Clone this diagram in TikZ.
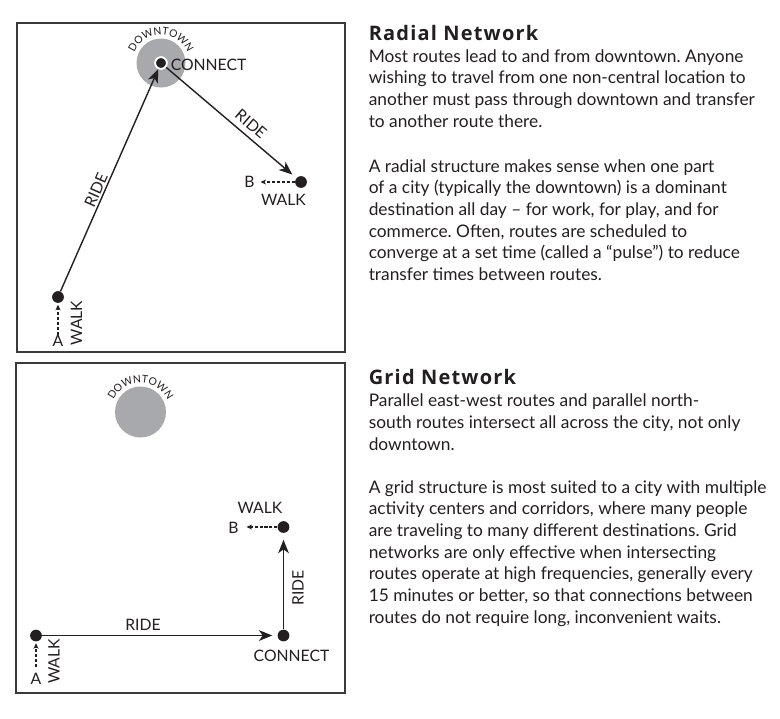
\documentclass[tikz,border=0pt]{standalone}
\usepackage{fontspec}
\setmainfont{Lato}
\newfontfamily\headfont[LetterSpace=6]{Open Sans}
\usetikzlibrary{arrows.meta,decorations.text}
\definecolor{dtgray}{HTML}{A7A9AC}
\definecolor{ink}{HTML}{231F20}
\definecolor{framec}{HTML}{3A3A3A}
\begin{document}
\frenchspacing
\begin{tikzpicture}[x=0.75pt,y=-0.75pt,
  panel/.style={draw=framec, line width=1.2pt},
  dot/.style={circle, fill=ink, inner sep=0pt, minimum size=8.8pt},
  lbl/.style={font=\fontsize{11.8}{13}\selectfont, text=ink, inner sep=0pt},
  ride/.style={draw=ink, line width=1.05pt, -{Stealth[length=10pt,width=8pt,inset=2.8pt]}},
  walk/.style={draw=ink, line width=0.95pt, dash pattern=on 2.3pt off 1.4pt, -{Stealth[length=4.2pt,width=3.8pt]}},
  body/.style={anchor=base west, inner sep=0pt, text=ink},
  dtown/.style={fill=dtgray, draw=none}
]
\useasboundingbox[fill=white] (0,0) rectangle (780,718);

% ---------- Radial panel ----------
\draw[panel] (17,23) rectangle (345,352);
\fill[dtown] (161,63) circle[radius=24.5];
\path[decorate, decoration={text along path, text align=center,
   text={|\fontsize{7.8}{8}\selectfont\color{ink}|DOWNTOWN}}]
   (161,63) ++(195:28.5) arc[start angle=195, end angle=345, radius=28.5];
\node[dot, draw=white, line width=1.4pt] (c1) at (161,63) {};
\node[lbl, anchor=west] (c1t) at (170.5,64.5) {CONNECT};
\node[dot] (a1) at (58,297) {};
\node[dot] (b1) at (301,182) {};
\coordinate (a1s) at (58,335);
\coordinate (b1e) at (260.5,182);
\draw[ride] (a1) -- (c1);
\draw[ride, shorten >=4pt] (c1) -- (b1);
\draw[walk, shorten >=1.2pt] (a1s) -- (a1);
\draw[walk] (b1) -- (b1e);
\node[lbl, rotate=66.2] (r1) at (96,190) {RIDE};
\node[lbl, rotate=-40.4] (r2) at (251,124) {RIDE};
\node[lbl] (la1) at (58,341) {A};
\node[lbl, rotate=90] (w1) at (76.5,323) {WALK};
\node[lbl] (lb1) at (249.5,182) {B};
\node[lbl] (w2) at (283.5,200) {WALK};

% ---------- Grid panel ----------
\draw[panel] (16,363) rectangle (345,693);
\fill[dtown] (140.5,412) circle[radius=25.5];
\path[decorate, decoration={text along path, text align=center,
   text={|\fontsize{7.8}{8}\selectfont\color{ink}|DOWNTOWN}}]
   (140.5,412) ++(195:29.5) arc[start angle=195, end angle=345, radius=29.5];
\node[dot] (a2) at (36,635.5) {};
\node[dot] (c2) at (283.5,635.5) {};
\node[dot] (b2) at (283.5,527) {};
\coordinate (a2s) at (36,667);
\coordinate (b2e) at (246.5,527);
\draw[ride, shorten >=3.8pt] (a2) -- (c2);
\draw[ride, shorten >=5pt] (c2) -- (b2);
\draw[walk, shorten >=1.2pt] (a2s) -- (a2);
\draw[walk] (b2) -- (b2e);
\node[lbl] (r3) at (143,624.5) {RIDE};
\node[lbl, rotate=90] (r4) at (298,588) {RIDE};
\node[lbl] (la2) at (36,678.5) {A};
\node[lbl, rotate=90] (w3) at (54,661.5) {WALK};
\node[lbl] (lb2) at (233.5,528) {B};
\node[lbl] (w4) at (260,507.5) {WALK};
\node[lbl] (c2t) at (291.5,656) {CONNECT};

% ---------- Texts ----------
\node[body, font=\headfont\bfseries\fontsize{15}{17}\selectfont] (h1) at (368.5,40) {Radial Network};
\node[body, font=\fontsize{13}{16.25}\selectfont] (p1) at (368.5,62.3) {\parbox[t]{320pt}{\raggedright
Most routes lead to and from downtown. Anyone\\
wishing to travel from one non-central location to\\
another must pass through downtown and transfer\\
to another route there.}};
\node[body, font=\fontsize{13}{16.25}\selectfont] (p2) at (368.5,172.3) {\parbox[t]{320pt}{\raggedright
A radial structure makes sense when one part\\
of a city (typically the downtown) is a dominant\\
destination all day – for work, for play, and for\\
commerce. Often, routes are scheduled to\\
converge at a set time (called a “pulse”) to reduce\\
transfer times between routes.}};

\node[body, font=\headfont\bfseries\fontsize{15}{17}\selectfont] (h2) at (368.5,384) {Grid Network};
\node[body, font=\fontsize{13}{16.25}\selectfont] (p3) at (368.5,406.7) {\parbox[t]{320pt}{\raggedright
Parallel east-west routes and parallel north-\\
south routes intersect all across the city, not only\\
downtown.}};
\node[body, font=\fontsize{13}{16.25}\selectfont] (p4) at (368.5,493.3) {\parbox[t]{320pt}{\raggedright
A grid structure is most suited to a city with multiple\\
activity centers and corridors, where many people\\
are traveling to many different destinations. Grid\\
networks are only effective when intersecting\\
routes operate at high frequencies, generally every\\
15 minutes or better, so that connections between\\
routes do not require long, inconvenient waits.}};
\end{tikzpicture}
\end{document}
